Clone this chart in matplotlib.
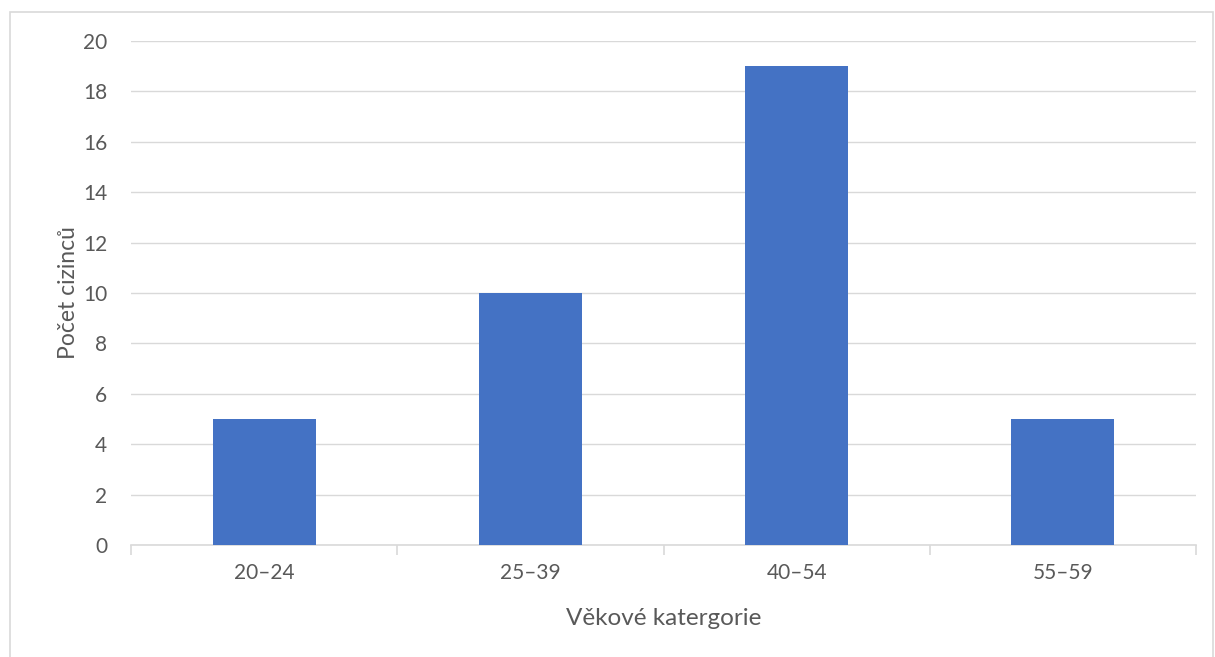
import matplotlib.pyplot as plt
from matplotlib.patches import Rectangle

categories = ['20–24', '25–39', '40–54', '55–59']
counts = [5, 10, 19, 5]
y_ticks = [0, 2, 4, 6, 8, 10, 12, 14, 16, 18, 20]

plt.rcParams['font.family'] = ['Lato', 'DejaVu Sans']
grey = '#595959'
line_grey = '#d9d9d9'

fig = plt.figure(figsize=(12.15, 6.57), dpi=100)
ax = fig.add_axes([131 / 1215, 1 - 545 / 657, (1196 - 131) / 1215, (545 - 41) / 657])

x = list(range(len(categories)))
ax.bar(x, counts, width=0.387, color='#4472C4', zorder=3)

ax.set_xlim(-0.5, len(categories) - 0.5)
ax.set_ylim(0, 20)
ax.set_yticks(y_ticks)
ax.set_xticks(x)
ax.set_xticklabels(categories)
ax.set_xticks([i - 0.5 for i in range(len(categories) + 1)], minor=True)

ax.grid(axis='y', color=line_grey, linewidth=1, zorder=0)
for side in ['top', 'right', 'left']:
    ax.spines[side].set_visible(False)
ax.spines['bottom'].set_color(line_grey)
ax.spines['bottom'].set_linewidth(1.2)

ax.tick_params(axis='y', length=0, pad=17, labelsize=15, labelcolor=grey)
ax.tick_params(axis='x', which='major', length=0, pad=13, labelsize=15, labelcolor=grey)
ax.tick_params(axis='x', which='minor', length=7, width=1.2, color=line_grey)

ax.set_ylabel('Počet cizinců', fontsize=16.5, color=grey, labelpad=3)
ax.set_xlabel('Věkové katergorie', fontsize=17.5, color=grey, labelpad=18)

# light frame around the chart area
fig.patches.append(Rectangle((10 / 1215, -0.05), 1203 / 1215, 1.05 - 12 / 657,
                             transform=fig.transFigure, fill=False,
                             edgecolor=line_grey, linewidth=1.2))

fig.savefig('out.png', dpi=100)
